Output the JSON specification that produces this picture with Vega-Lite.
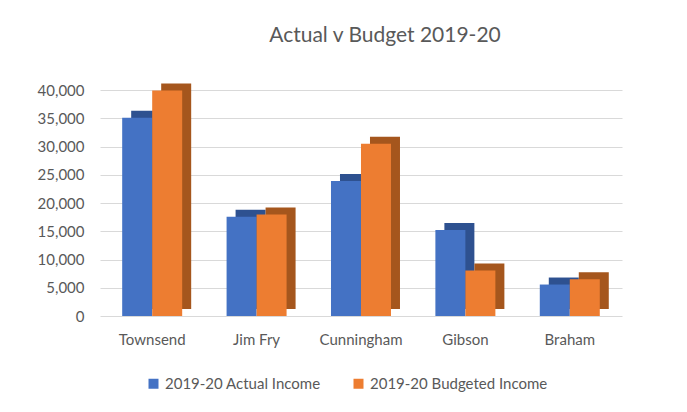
{
  "$schema": "https://vega.github.io/schema/vega-lite/v6.json",
  "autosize": "none",
  "width": 522,
  "height": 226,
  "padding": {"left": 100, "top": 90, "right": 65, "bottom": 96},
  "background": "white",
  "title": {
    "text": "Actual v Budget 2019-20",
    "font": "Lato",
    "fontSize": 21,
    "fontWeight": "normal",
    "color": "#595959",
    "anchor": "middle",
    "dx": 24,
    "offset": 37
  },
  "config": {
    "view": {"stroke": null},
    "font": "Lato"
  },
  "data": {
    "values": [
      {"site": "Townsend", "series": "2019-20 Actual Income", "income": 35100},
      {"site": "Townsend", "series": "2019-20 Budgeted Income", "income": 39900},
      {"site": "Jim Fry", "series": "2019-20 Actual Income", "income": 17550},
      {"site": "Jim Fry", "series": "2019-20 Budgeted Income", "income": 17980},
      {"site": "Cunningham", "series": "2019-20 Actual Income", "income": 23900},
      {"site": "Cunningham", "series": "2019-20 Budgeted Income", "income": 30500},
      {"site": "Gibson", "series": "2019-20 Actual Income", "income": 15200},
      {"site": "Gibson", "series": "2019-20 Budgeted Income", "income": 8050},
      {"site": "Braham", "series": "2019-20 Actual Income", "income": 5570},
      {"site": "Braham", "series": "2019-20 Budgeted Income", "income": 6500}
    ]
  },
  "encoding": {
    "x": {
      "field": "site",
      "type": "nominal",
      "sort": null,
      "scale": {"paddingInner": 0.425, "paddingOuter": 0.2125},
      "axis": {
        "title": null,
        "labelAngle": 0,
        "labelFontSize": 15,
        "labelColor": "#595959",
        "labelPadding": 16,
        "ticks": false,
        "domain": false
      }
    },
    "y": {
      "field": "income",
      "type": "quantitative",
      "scale": {"domain": [0, 40000], "nice": false},
      "axis": {
        "title": null,
        "values": [0, 5000, 10000, 15000, 20000, 25000, 30000, 35000, 40000],
        "format": ",d",
        "labelFontSize": 15,
        "labelColor": "#595959",
        "labelPadding": 16,
        "labelBaseline": "middle",
        "ticks": false,
        "domain": false,
        "gridColor": "#D9D9D9",
        "gridWidth": 1
      }
    }
  },
  "layer": [
    {
      "mark": {"type": "bar", "yOffset": -7, "y2Offset": -7},
      "encoding": {
        "xOffset": {
          "field": "series",
          "type": "nominal",
          "scale": {"range": [9, 69], "paddingInner": 0, "paddingOuter": 0}
        },
        "color": {
          "field": "series",
          "type": "nominal",
          "scale": {"range": ["#2E5190", "#A5561D"]},
          "legend": null
        }
      }
    },
    {
      "mark": {"type": "bar"},
      "encoding": {
        "xOffset": {
          "field": "series",
          "type": "nominal",
          "scale": {"range": [0, 60], "paddingInner": 0, "paddingOuter": 0}
        },
        "color": {
          "field": "series",
          "type": "nominal",
          "scale": {"range": ["#4472C4", "#ED7D31"]},
          "legend": {
            "title": null,
            "orient": "none",
            "legendX": 46,
            "legendY": 286,
            "direction": "horizontal",
            "symbolType": "square",
            "symbolSize": 100,
            "symbolStrokeWidth": 0,
            "labelFontSize": 15,
            "labelLimit": 400,
            "labelColor": "#595959",
            "columnPadding": 30
          }
        }
      }
    }
  ],
  "resolve": {"scale": {"xOffset": "independent", "color": "independent"}}
}
